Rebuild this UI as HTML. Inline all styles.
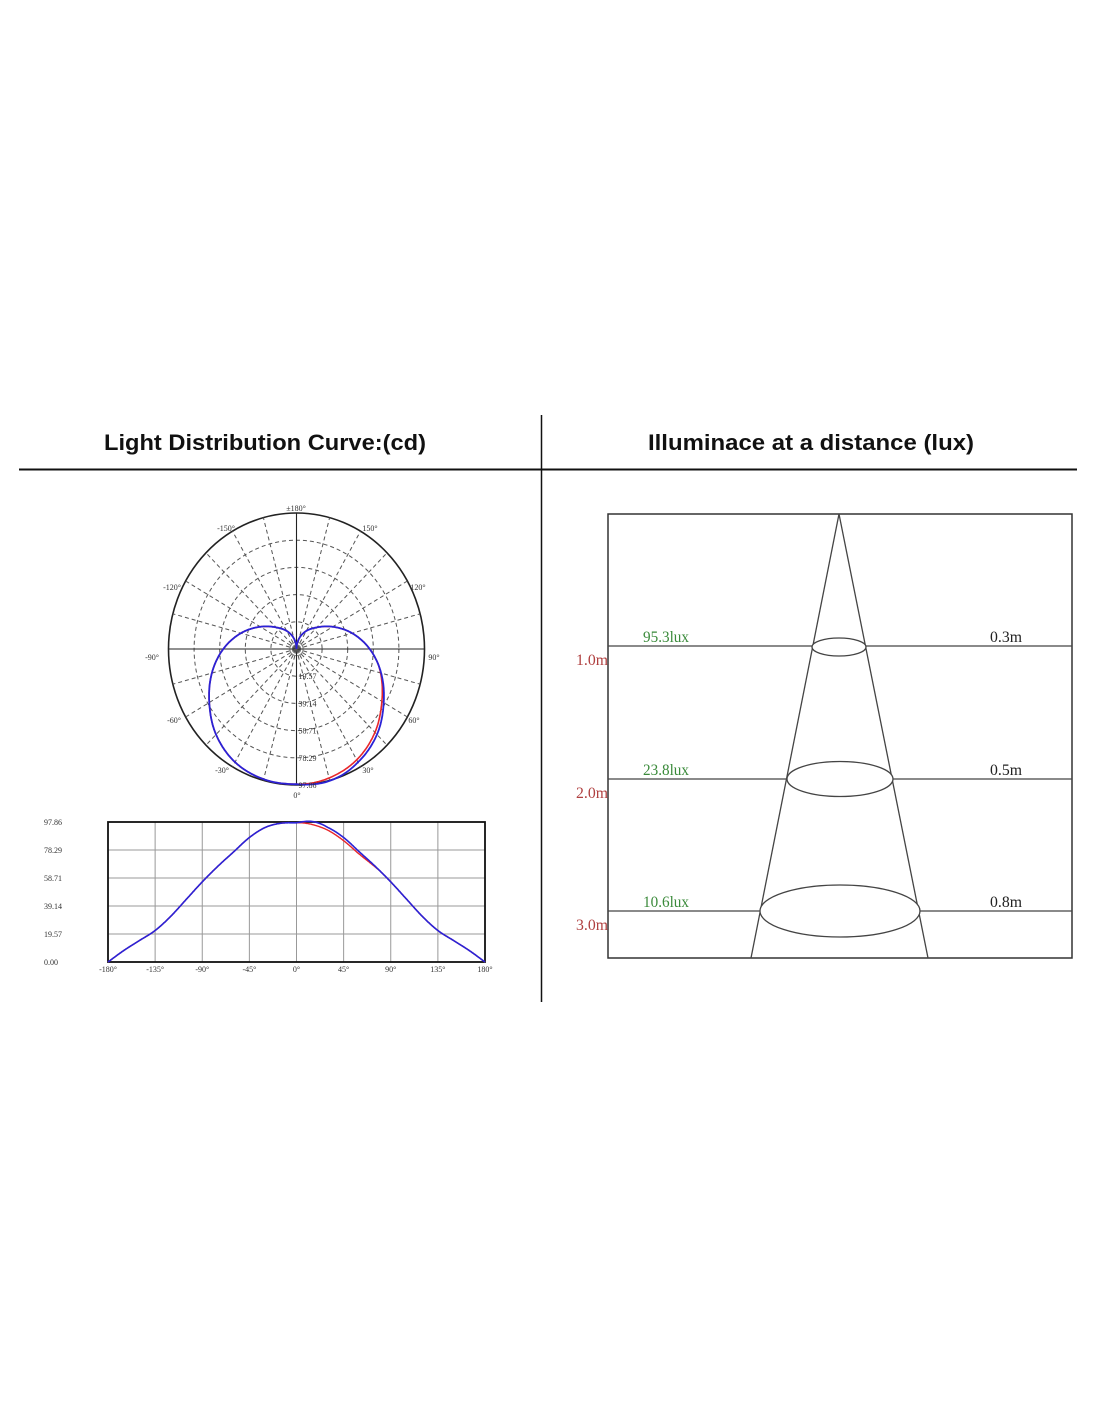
<!DOCTYPE html>
<html><head><meta charset="utf-8"><style>
html,body{margin:0;padding:0;background:#fff;}
svg{display:block;}
.t{font-family:"Liberation Serif",serif;font-size:8px;fill:#333;}
</style></head><body>
<svg id="s" width="1100" height="1422" viewBox="0 0 1100 1422" xmlns="http://www.w3.org/2000/svg">
<rect width="1100" height="1422" fill="#fff"/>
<text x="265" y="450" text-anchor="middle" font-family="Liberation Sans Narrow, Liberation Sans, sans-serif" font-weight="bold" font-size="22" textLength="322" lengthAdjust="spacingAndGlyphs" fill="#111">Light Distribution Curve:(cd)</text>
<text x="811" y="450" text-anchor="middle" font-family="Liberation Sans Narrow, Liberation Sans, sans-serif" font-weight="bold" font-size="22" textLength="326" lengthAdjust="spacingAndGlyphs" fill="#111">Illuminace at a distance (lux)</text>
<line x1="19" y1="469.5" x2="1077" y2="469.5" stroke="#111" stroke-width="2"/>
<line x1="541.5" y1="415" x2="541.5" y2="1002" stroke="#111" stroke-width="1.5"/>

<g id="polar"></g>
<g id="lin"></g>

<g stroke="#444" stroke-width="1.3" fill="none">
<rect x="608" y="514" width="464" height="444" stroke="#333" stroke-width="1.5"/>
<line x1="608" y1="646" x2="1072" y2="646"/>
<line x1="608" y1="779" x2="1072" y2="779"/>
<line x1="608" y1="911" x2="1072" y2="911"/>
<line x1="839" y1="514" x2="751" y2="958"/>
<line x1="839" y1="514" x2="928" y2="958"/>
<ellipse cx="839" cy="647" rx="27" ry="9" fill="#fff"/>
<ellipse cx="840" cy="779" rx="53" ry="17.5" fill="#fff"/>
<ellipse cx="840" cy="911" rx="80" ry="26" fill="#fff"/>
</g>
<g font-family="Liberation Serif, serif" font-size="16">
<text x="643" y="642" fill="#3a8a3a" textLength="46" lengthAdjust="spacingAndGlyphs">95.3lux</text>
<text x="643" y="775" fill="#3a8a3a" textLength="46" lengthAdjust="spacingAndGlyphs">23.8lux</text>
<text x="643" y="907" fill="#3a8a3a" textLength="46" lengthAdjust="spacingAndGlyphs">10.6lux</text>
<text x="990" y="642" fill="#222" textLength="32" lengthAdjust="spacingAndGlyphs">0.3m</text>
<text x="990" y="775" fill="#222" textLength="32" lengthAdjust="spacingAndGlyphs">0.5m</text>
<text x="990" y="907" fill="#222" textLength="32" lengthAdjust="spacingAndGlyphs">0.8m</text>
<text x="576" y="665" fill="#b04040" textLength="32" lengthAdjust="spacingAndGlyphs">1.0m</text>
<text x="576" y="798" fill="#b04040" textLength="32" lengthAdjust="spacingAndGlyphs">2.0m</text>
<text x="576" y="930" fill="#b04040" textLength="32" lengthAdjust="spacingAndGlyphs">3.0m</text>
</g>
</svg>
<script>
var NS="http://www.w3.org/2000/svg";
function el(p,n,a,txt){var e=document.createElementNS(NS,n);for(var k in a)e.setAttribute(k,a[k]);if(txt!=null)e.textContent=txt;p.appendChild(e);return e;}
var prof=[[-15,97.3],[0,97.3],[15,97],[30,94],[45,87],[60,77],[75,67],[90,56],[105,44],[120,32],[135,22],[150,15],[165,8],[180,0],[195,-8]];
function L(a){a=Math.abs(a);for(var i=1;i<prof.length-2;i++){var p1=prof[i],p2=prof[i+1];if(a<=p2[0]){var p0=prof[i-1][1],P1=p1[1],P2=p2[1],p3=prof[i+2][1];var t=(a-p1[0])/15;
 return 0.5*((2*P1)+(-p0+P2)*t+(2*p0-5*P1+4*P2-p3)*t*t+(-p0+3*P1-3*P2+p3)*t*t*t);}}return 0;}
function Lr(a){var v=L(a);if(a>5&&a<80){v-=2.2*Math.sin(Math.PI*(a-5)/75);}return Math.max(0,v);}
function Lb(a){var v=L(a);if(a>0&&a<30){v+=1.2*Math.sin(Math.PI*a/30);}return Math.max(0,v);}
var g=document.getElementById("polar");var cx=296.5,cy=649,RX=128,RY=136;
el(g,"ellipse",{cx:cx,cy:cy,rx:RX,ry:RY,fill:"none",stroke:"#222","stroke-width":1.6});
for(var k=1;k<5;k++)el(g,"ellipse",{cx:cx,cy:cy,rx:RX*k/5,ry:RY*k/5,fill:"none",stroke:"#555","stroke-width":1,"stroke-dasharray":"4 3"});
for(var k=1;k<4;k++)el(g,"circle",{cx:cx,cy:cy,r:k*2.2,fill:"none",stroke:"#777","stroke-width":0.8});
for(var a=0;a<360;a+=15){var r=a*Math.PI/180;var x=cx+RX*Math.sin(r),y=cy+RY*Math.cos(r);
 var solid=(a%90==0);el(g,"line",{x1:cx,y1:cy,x2:x,y2:y,stroke:solid?"#222":"#555","stroke-width":solid?1.1:1,"stroke-dasharray":solid?"none":"4 3"});}
function ppath(f){var d="";for(var a=-180;a<=180;a+=0.5){var v=f(a)/97.86;var r=a*Math.PI/180;d+=(d?"L":"M")+(cx+RX*v*Math.sin(r)).toFixed(1)+","+(cy+RY*v*Math.cos(r)).toFixed(1);}return d;}
el(g,"path",{d:ppath(Lr),fill:"none",stroke:"#e8262a","stroke-width":1.6});
el(g,"path",{d:ppath(Lb),fill:"none",stroke:"#2a22d6","stroke-width":1.8});
var lab=[["±180°",296,511],["-150°",226,531],["150°",370,531],["-120°",172,590],["120°",418,590],["-90°",152,660],["90°",434,660],["-60°",174,723],["60°",414,723],["-30°",222,773],["30°",368,773],["0°",297,798]];
lab.forEach(function(l){el(g,"text",{x:l[1],y:l[2],"text-anchor":"middle","class":"t"},l[0]);});
["19.57","39.14","58.71","78.29","97.86"].forEach(function(s,i){el(g,"text",{x:cx+2,y:cy+RY*(i+1)/5+3,"class":"t"},s);});
var h=document.getElementById("lin");var X0=108,X1=485,Y0=822,Y1=962;
for(var i=1;i<8;i++){var x=X0+(X1-X0)*i/8;el(h,"line",{x1:x,y1:Y0,x2:x,y2:Y1,stroke:"#999","stroke-width":1});}
for(var i=1;i<5;i++){var y=Y0+(Y1-Y0)*i/5;el(h,"line",{x1:X0,y1:y,x2:X1,y2:y,stroke:"#999","stroke-width":1});}
el(h,"rect",{x:X0,y:Y0,width:X1-X0,height:Y1-Y0,fill:"none",stroke:"#111","stroke-width":1.8});
function lpath(f){var d="";for(var a=-180;a<=180;a+=0.5){var x=X0+(a+180)/360*(X1-X0),y=Y1-f(a)/97.86*(Y1-Y0);d+=(d?"L":"M")+x.toFixed(1)+","+y.toFixed(1);}return d;}
el(h,"path",{d:lpath(Lr),fill:"none",stroke:"#e8262a","stroke-width":1.4});
el(h,"path",{d:lpath(Lb),fill:"none",stroke:"#2a22d6","stroke-width":1.6});
["0.00","19.57","39.14","58.71","78.29","97.86"].forEach(function(s,i){el(h,"text",{x:44,y:Y1-(Y1-Y0)*i/5+3,"class":"t"},s);});
["-180°","-135°","-90°","-45°","0°","45°","90°","135°","180°"].forEach(function(s,i){el(h,"text",{x:X0+(X1-X0)*i/8,y:972,"text-anchor":"middle","class":"t"},s);});
</script>
</body></html>
